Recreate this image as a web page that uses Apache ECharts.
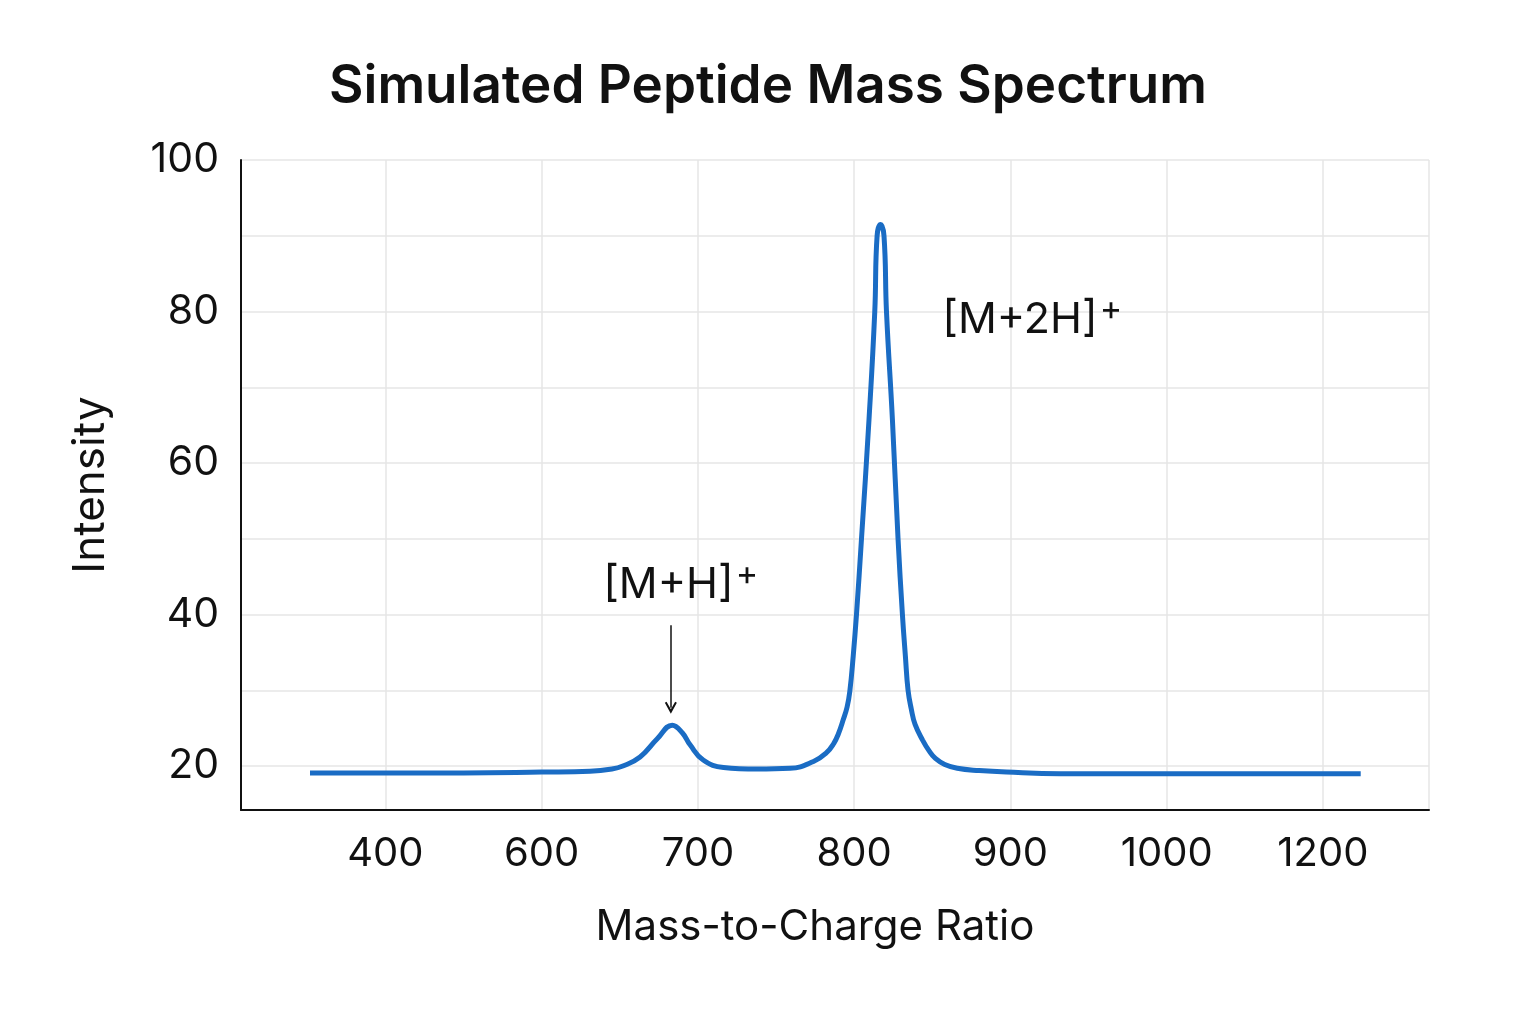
<!DOCTYPE html>
<html>
<head>
<meta charset="utf-8">
<title>Simulated Peptide Mass Spectrum</title>
<script src="https://cdn.jsdelivr.net/npm/echarts@6/dist/echarts.min.js"></script>
<style>
  html, body { margin: 0; padding: 0; background: #fff; }
  #chart { width: 1536px; height: 1024px; }
</style>
</head>
<body>
<div id="chart"></div>
<script>
// tick labels on the m/z axis (evenly spaced on screen, not evenly spaced in value)
const xTickValues = [400, 600, 700, 800, 900, 1000, 1200];
const xTickLabels = ['400', '600', '700', '800', '900', '1000', '1200'];

// spectrum
const mzValues = [
  303.5, 400, 500, 600, 631, 645, 652, 663, 674, 683.6, 690, 695, 703.4, 716.4, 738, 759,
  774, 782, 787, 790, 793, 795.5, 797.2, 799.4, 801.5, 804.7, 809.5, 813.2, 814.7, 816.9,
  819.1, 820.7, 824.5, 828.1, 830.9, 832.8, 834.5, 836.6, 839, 843.9, 848, 852, 858, 866,
  880, 897.5, 932, 1000, 1100, 1200, 1248.4
];
const intensityValues = [
  19.1, 19.1, 19.1, 19.2, 19.3, 19.6, 20.0, 21.2, 23.6, 25.4, 24.4, 22.8, 20.8, 19.8, 19.6, 19.7,
  20.6, 21.7, 23.0, 24.3, 26.1, 27.8, 29.8, 34.5, 40, 50, 65.7, 80, 90, 91.5,
  90, 80, 65.7, 50, 40, 34.5, 30, 27.5, 25.5, 23.4, 22.0, 21.0, 20.2, 19.7,
  19.4, 19.2, 19.0, 19.0, 19.0, 19.0, 19.0
];

// peak annotations
const peakLabels = ['[M+H]', '[M+2H]'];
const peakLabelMz = [689, 914];
const peakLabelY = [43.9, 78.9];
const arrowMz = 682.7;
const arrowFrom = 38.6;
const arrowTo = 27.7;

// m/z -> position on the (piecewise) axis
function mzToPos(mz) {
  const t = xTickValues;
  if (mz <= t[1]) return (mz - t[0]) / (t[1] - t[0]);
  for (let i = 1; i < t.length - 1; i++) {
    if (mz <= t[i + 1]) return i + (mz - t[i]) / (t[i + 1] - t[i]);
  }
  const n = t.length - 1;
  return n + (mz - t[n]) / (t[n] - t[n - 1]);
}

const seriesData = mzValues.map((mz, i) => [mzToPos(mz), intensityValues[i]]);

const font = 'Inter, "Noto Sans", sans-serif';
const chart = echarts.init(document.getElementById('chart'));

const option = {
  backgroundColor: '#fff',
  animation: false,
  title: {
    text: 'Simulated Peptide Mass Spectrum',
    left: 'center',
    top: 56,
    textStyle: { fontFamily: font, fontSize: 53, fontWeight: 600, color: '#111' }
  },
  grid: { left: 241, right: 107, top: 160, bottom: 214 },
  xAxis: {
    type: 'value',
    min: -0.924,
    max: 6.679,
    splitNumber: 8,
    name: 'Mass-to-Charge Ratio',
    nameLocation: 'middle',
    nameGap: 96,
    nameTextStyle: { fontFamily: font, fontSize: 42, color: '#111', padding: [0, 40, 0, 0] },
    axisLine: { onZero: false, lineStyle: { color: '#111', width: 2 } },
    axisTick: { show: false },
    axisLabel: {
      margin: 24,
      fontFamily: font,
      fontSize: 40,
      color: '#111',
      showMinLabel: true,
      showMaxLabel: true,
      formatter: v => {
        const i = Math.round(v);
        return Math.abs(v - i) < 1e-6 && xTickLabels[i] ? xTickLabels[i] : '';
      }
    },
    splitLine: { show: true, lineStyle: { color: '#e6e6e6', width: 1.5 } }
  },
  yAxis: {
    type: 'value',
    min: 14.2,
    max: 100,
    splitNumber: 9,
    name: 'Intensity',
    nameLocation: 'middle',
    nameGap: 128,
    nameTextStyle: { fontFamily: font, fontSize: 44, color: '#111' },
    axisLine: { show: true, onZero: false, lineStyle: { color: '#111', width: 2 } },
    axisTick: { show: false },
    axisLabel: {
      margin: 22,
      fontFamily: font,
      fontSize: 41,
      color: '#111',
      formatter: v => (Math.abs(v % 20) < 1e-6 ? String(v) : '')
    },
    splitLine: { show: true, lineStyle: { color: '#e6e6e6', width: 1.5 } }
  },
  series: [{
    type: 'line',
    data: seriesData,
    smooth: 0.45,
    showSymbol: false,
    lineStyle: { color: '#1a6cc4', width: 5 },
    z: 3,
    markLine: {
      silent: true,
      symbol: ['none', 'path://M0,10 L5,0 L10,10 L8.6,11 L5,4 L1.4,11 Z'],
      symbolSize: [12, 12],
      lineStyle: { color: '#111', width: 1.5, type: 'solid' },
      label: { show: false },
      data: [[
        { coord: [mzToPos(arrowMz), arrowFrom] },
        { coord: [mzToPos(arrowMz), arrowTo] }
      ]]
    },
    markPoint: {
      silent: true,
      symbol: 'rect',
      symbolSize: 1,
      itemStyle: { color: 'rgba(0,0,0,0)' },
      label: {
        show: true,
        position: 'inside',
        formatter: p => p.name + '{sup|+}',
        fontFamily: font,
        fontSize: 43,
        lineHeight: 48,
        color: '#111',
        rich: {
          sup: {
            fontFamily: font,
            fontSize: 34,
            color: '#111',
            lineHeight: 26,
            padding: [0, 0, 20, 2]
          }
        }
      },
      data: peakLabels.map((t, i) => ({
        name: t,
        coord: [mzToPos(peakLabelMz[i]), peakLabelY[i]]
      }))
    }
  }]
};

chart.setOption(option);
window.addEventListener('resize', () => chart.resize());
</script>
</body>
</html>
